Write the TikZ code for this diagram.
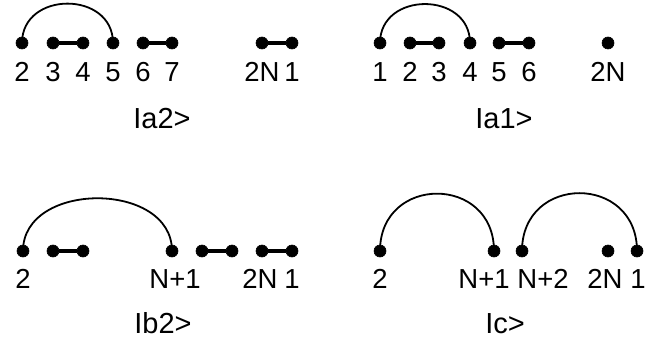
\documentclass[tikz,border=0pt]{standalone}
\usepackage{fontspec}
\setmainfont{Liberation Sans}
\begin{document}
\begin{tikzpicture}[x=1pt,y=1pt,
  dot/.style={circle,fill=black,draw=black,line width=0.6pt,inner sep=0pt,minimum size=12pt},
  pair/.style={line width=3.4pt},
  arcline/.style={line width=1.8pt},
  lab/.style={anchor=base,inner sep=0pt,font=\fontsize{27.5}{30}\selectfont},
  captext/.style={anchor=base,inner sep=0pt,font=\fontsize{29}{32}\selectfont}]
\useasboundingbox (0,0) rectangle (660,346);
% ---------- Ia2> (top left)
\foreach \n/\x in {a/22,b/53,c/83,d/113,e/143,f/172,g/262,h/292}
  \node[dot] (TL\n) at (\x,303) {};
\draw[pair] (TLb) -- (TLc);
\draw[pair] (TLe) -- (TLf);
\draw[pair] (TLg) -- (TLh);
\draw[arcline] (TLa.center) to[out=90,in=90,looseness=1.48] (TLd.center);
\foreach \n/\t in {a/2,b/3,c/4,d/5,e/6,f/7,g/2N,h/1}
  \node[lab] (TLl\n) at (TL\n |- 0,265) {\t};
\node[captext] (capTL) at (162,218) {Ia2>};
% ---------- Ia1> (top right)
\foreach \n/\x in {a/380,b/410,c/439,d/470,e/499,f/529,g/608}
  \node[dot] (TR\n) at (\x,303) {};
\draw[pair] (TRb) -- (TRc);
\draw[pair] (TRe) -- (TRf);
\draw[arcline] (TRa.center) to[out=90,in=90,looseness=1.48] (TRd.center);
\foreach \n/\t in {a/1,b/2,c/3,d/4,e/5,f/6,g/2N}
  \node[lab] (TRl\n) at (TR\n |- 0,265) {\t};
\node[captext] (capTR) at (504,218) {Ia1>};
% ---------- Ib2> (bottom left)
\foreach \n/\x in {a/23,b/53,c/83,d/172,e/202,f/232,g/262,h/292}
  \node[dot] (BL\n) at (\x,95) {};
\draw[pair] (BLb) -- (BLc);
\draw[pair] (BLe) -- (BLf);
\draw[pair] (BLg) -- (BLh);
\draw[arcline] (BLa.center) to[out=90,in=90,looseness=1.21] (BLd.center);
\node[lab] (BLla) at (23,58) {2};
\node[lab] (BLld) at (175,58) {N+1};
\node[lab] (BLlg) at (260,58) {2N};
\node[lab] (BLlh) at (292,58) {1};
\node[captext] (capBL) at (163,13) {Ib2>};
% ---------- Ic> (bottom right)
\foreach \n/\x in {a/380,b/494,c/522,d/608,e/637}
  \node[dot] (BR\n) at (\x,95) {};
\draw[arcline] (BRa.center) to[out=90,in=90,looseness=1.72] (BRb.center);
\draw[arcline] (BRc.center) to[out=90,in=90,looseness=1.72] (BRe.center);
\node[lab] (BRla) at (380,58) {2};
\node[lab] (BRlb) at (484,58) {N+1};
\node[lab] (BRlc) at (543,58) {N+2};
\node[lab] (BRld) at (605,58) {2N};
\node[lab] (BRle) at (638,58) {1};
\node[captext] (capBR) at (505,13) {Ic>};
\end{tikzpicture}
\end{document}
